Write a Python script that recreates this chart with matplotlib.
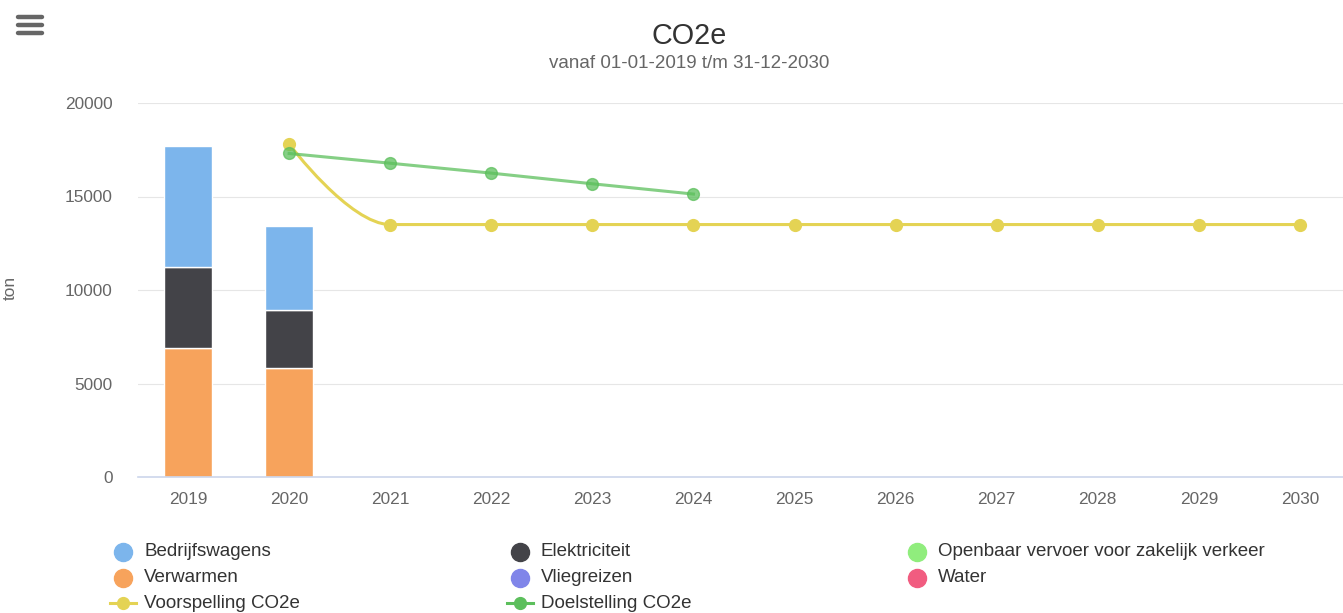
import numpy as np
import matplotlib
matplotlib.use("Agg")
import matplotlib.pyplot as plt
from matplotlib.path import Path
from matplotlib.patches import PathPatch
from matplotlib.lines import Line2D

plt.rcParams['font.family'] = ['Liberation Sans', 'DejaVu Sans']

# data
years = ['2019', '2020', '2021', '2022', '2023', '2024', '2025', '2026', '2027', '2028', '2029', '2030']
verwarmen = [6900, 5830]
elektriciteit = [4330, 3100]
bedrijfswagens = [6470, 4490]
voorspelling = [None, 17800, 13500, 13500, 13500, 13500, 13500, 13500, 13500, 13500, 13500, 13500]
doelstelling = [None, 17300, 16780, 16250, 15680, 15130]

c_bedrijf = '#7cb5ec'
c_elek = '#434348'
c_ov = '#90ed7d'
c_verw = '#f7a35c'
c_vlieg = '#8085e9'
c_water = '#f15c80'
c_voor = '#e4d354'
c_doel = '#5cbf5c'


def spline_path(xs, ys):
    # highcharts-style spline control points
    n = len(xs)
    verts = [(xs[0], ys[0])]
    codes = [Path.MOVETO]
    lefts, rights = [None] * n, [None] * n
    for i in range(1, n - 1):
        x, y = xs[i], ys[i]
        lx, ly = xs[i - 1], ys[i - 1]
        nx_, ny = xs[i + 1], ys[i + 1]
        lcx = (1.5 * x + lx) / 2.5
        lcy = (1.5 * y + ly) / 2.5
        rcx = (1.5 * x + nx_) / 2.5
        rcy = (1.5 * y + ny) / 2.5
        corr = (rcy - lcy) * (rcx - x) / (rcx - lcx) + y - rcy
        lcy += corr
        rcy += corr
        if lcy > ly and lcy > y:
            lcy = max(ly, y); rcy = 2 * y - lcy
        elif lcy < ly and lcy < y:
            lcy = min(ly, y); rcy = 2 * y - lcy
        if rcy > ny and rcy > y:
            rcy = max(ny, y); lcy = 2 * y - rcy
        elif rcy < ny and rcy < y:
            rcy = min(ny, y); lcy = 2 * y - rcy
        lefts[i] = (lcx, lcy)
        rights[i] = (rcx, rcy)
    for i in range(1, n):
        c1 = rights[i - 1] or (xs[i - 1], ys[i - 1])
        c2 = lefts[i] or (xs[i], ys[i])
        verts += [c1, c2, (xs[i], ys[i])]
        codes += [Path.CURVE4] * 3
    return Path(verts, codes)


fig = plt.figure(figsize=(13.43, 6.13), dpi=100)
ax = fig.add_axes([137.5 / 1343, 1 - 477 / 613, 1213 / 1343, 374 / 613])

x = np.arange(len(years))
w = 0.475
bx = x[:len(verwarmen)]
ax.bar(bx, verwarmen, w, color=c_verw, edgecolor='white', linewidth=1, zorder=2)
b2 = np.array(verwarmen)
ax.bar(bx, elektriciteit, w, bottom=b2, color=c_elek, edgecolor='white', linewidth=1, zorder=2)
b3 = b2 + np.array(elektriciteit)
ax.bar(bx, bedrijfswagens, w, bottom=b3, color=c_bedrijf, edgecolor='white', linewidth=1, zorder=2)

# voorspelling (spline)
vx = [i for i, v in enumerate(voorspelling) if v is not None]
vy = [v for v in voorspelling if v is not None]
ax.add_patch(PathPatch(spline_path(vx, vy), fill=False, edgecolor=c_voor, lw=2.2, zorder=3))
ax.plot(vx, vy, 'o', color=c_voor, markersize=8.5, zorder=3)

# doelstelling (line)
dx = [i for i, v in enumerate(doelstelling) if v is not None]
dy = [v for v in doelstelling if v is not None]
ax.plot(dx, dy, '-o', color=c_doel, alpha=0.75, lw=2.2, markersize=8.5, zorder=4)

ax.set_xlim(-0.5, 11.5)
ax.set_ylim(0, 20000)
ax.set_yticks([0, 5000, 10000, 15000, 20000])
ax.set_xticks(x)
ax.set_xticklabels(years)
ax.tick_params(axis='y', length=0, pad=18, labelsize=12.4, labelcolor='#666666')
ax.tick_params(axis='x', length=0, pad=11, labelsize=12.4, labelcolor='#666666')
ax.grid(axis='y', color='#e6e6e6', lw=0.8, zorder=0)
ax.set_axisbelow(True)
for s in ['top', 'right', 'left']:
    ax.spines[s].set_visible(False)
ax.spines['bottom'].set_color('#ccd6eb')
ax.spines['bottom'].set_linewidth(1.2)

fig.text(689 / 1343, 1 - 36 / 613, 'CO2e', ha='center', va='center', fontsize=20.7, color='#333333')
fig.text(689 / 1343, 1 - 63 / 613, 'vanaf 01-01-2019 t/m 31-12-2030', ha='center', va='center',
         fontsize=13.5, color='#666666')
fig.text(10 / 1343, 1 - 288 / 613, 'ton', rotation=90, ha='center', va='center',
         fontsize=12.4, color='#666666')

# hamburger menu
for yy in [16.7, 25, 33]:
    fig.add_artist(Line2D([18 / 1343, 42 / 1343], [1 - yy / 613] * 2, color='#666666',
                          lw=3.2, solid_capstyle='round'))

# legend
items = [
    ('Bedrijfswagens', c_bedrijf, 'dot', 0, 0), ('Elektriciteit', c_elek, 'dot', 1, 0),
    ('Openbaar vervoer voor zakelijk verkeer', c_ov, 'dot', 2, 0),
    ('Verwarmen', c_verw, 'dot', 0, 1), ('Vliegreizen', c_vlieg, 'dot', 1, 1),
    ('Water', c_water, 'dot', 2, 1),
    ('Voorspelling CO2e', c_voor, 'line', 0, 2), ('Doelstelling CO2e', c_doel, 'line', 1, 2),
]
col_x = [123, 520, 917]
row_y = [552, 578, 603]
for label, col, kind, ci, ri in items:
    mx = col_x[ci] / 1343
    my = 1 - row_y[ri] / 613
    if kind == 'dot':
        fig.add_artist(Line2D([mx], [my], marker='o', color=col, markersize=13, linestyle='none'))
    else:
        fig.add_artist(Line2D([(col_x[ci] - 13) / 1343, (col_x[ci] + 13) / 1343], [my, my],
                              color=col, lw=2.2))
        fig.add_artist(Line2D([mx], [my], marker='o', color=col, markersize=8.5, linestyle='none'))
    fig.text((col_x[ci] + 21) / 1343, my, label, ha='left', va='center', fontsize=13.5,
             color='#333333')

fig.savefig('out.png', dpi=100)
